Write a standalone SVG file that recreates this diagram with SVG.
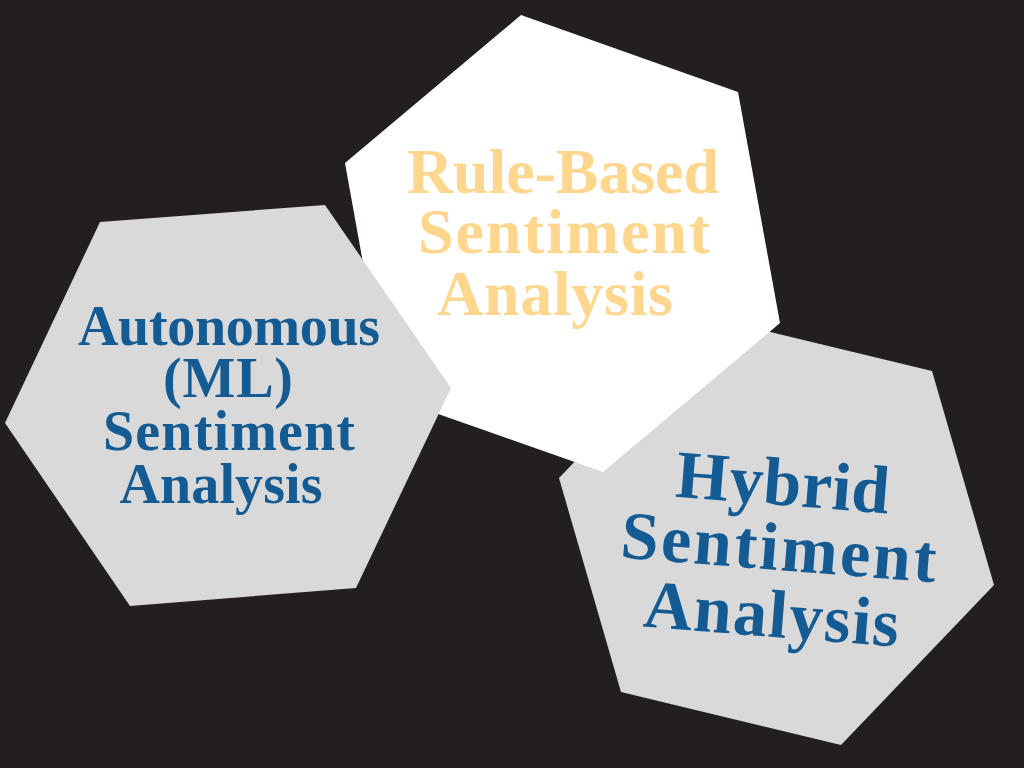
<svg xmlns="http://www.w3.org/2000/svg" width="1024" height="768" viewBox="0 0 1024 768">
  <style>
    .lbl { font-family: "Liberation Serif", "Times New Roman", serif; font-weight: bold; text-anchor: middle; }
    .blue { fill: #155b93; }
    .gold { fill: #ffd68d; }
    .grey { fill: #d9d9d9; }
    .white { fill: #ffffff; }
  </style>
  <rect width="1024" height="768" fill="#231f1f"/>

  <!-- Hybrid (bottom right, behind the white hexagon) -->
  <g id="hybrid">
    <polygon class="grey" points="712,318 932,371 994,585 841,745 621,692 559,478"/>
    <g transform="rotate(4.5 777 570)">
      <text class="lbl blue" x="776" y="505" font-size="68" textLength="214">Hybrid</text>
      <text class="lbl blue" x="777" y="570" font-size="68" textLength="316">Sentiment</text>
      <text class="lbl blue" x="775" y="637" font-size="68" textLength="256">Analysis</text>
    </g>
  </g>

  <!-- Rule-based (top centre) -->
  <g id="rule-based">
    <polygon class="white" points="521,15 738,92 780,323 603,472 387,396 345,163"/>
    <text class="lbl gold" x="563" y="193" font-size="64" textLength="312">Rule-Based</text>
    <text class="lbl gold" x="564" y="253" font-size="64" textLength="292">Sentiment</text>
    <text class="lbl gold" x="555" y="315" font-size="64" textLength="236">Analysis</text>
  </g>

  <!-- Autonomous / ML (left) -->
  <g id="autonomous">
    <polygon class="grey" points="100,222 325,205 451,388 356,588 130,606 5,423"/>
    <text class="lbl blue" x="229" y="345" font-size="56" textLength="302">Autonomous</text>
    <text class="lbl blue" x="228" y="397" font-size="56" textLength="130">(ML)</text>
    <text class="lbl blue" x="229" y="450" font-size="56" textLength="252">Sentiment</text>
    <text class="lbl blue" x="221" y="503" font-size="56" textLength="203">Analysis</text>
  </g>

  <g id="connectors"/>
</svg>
